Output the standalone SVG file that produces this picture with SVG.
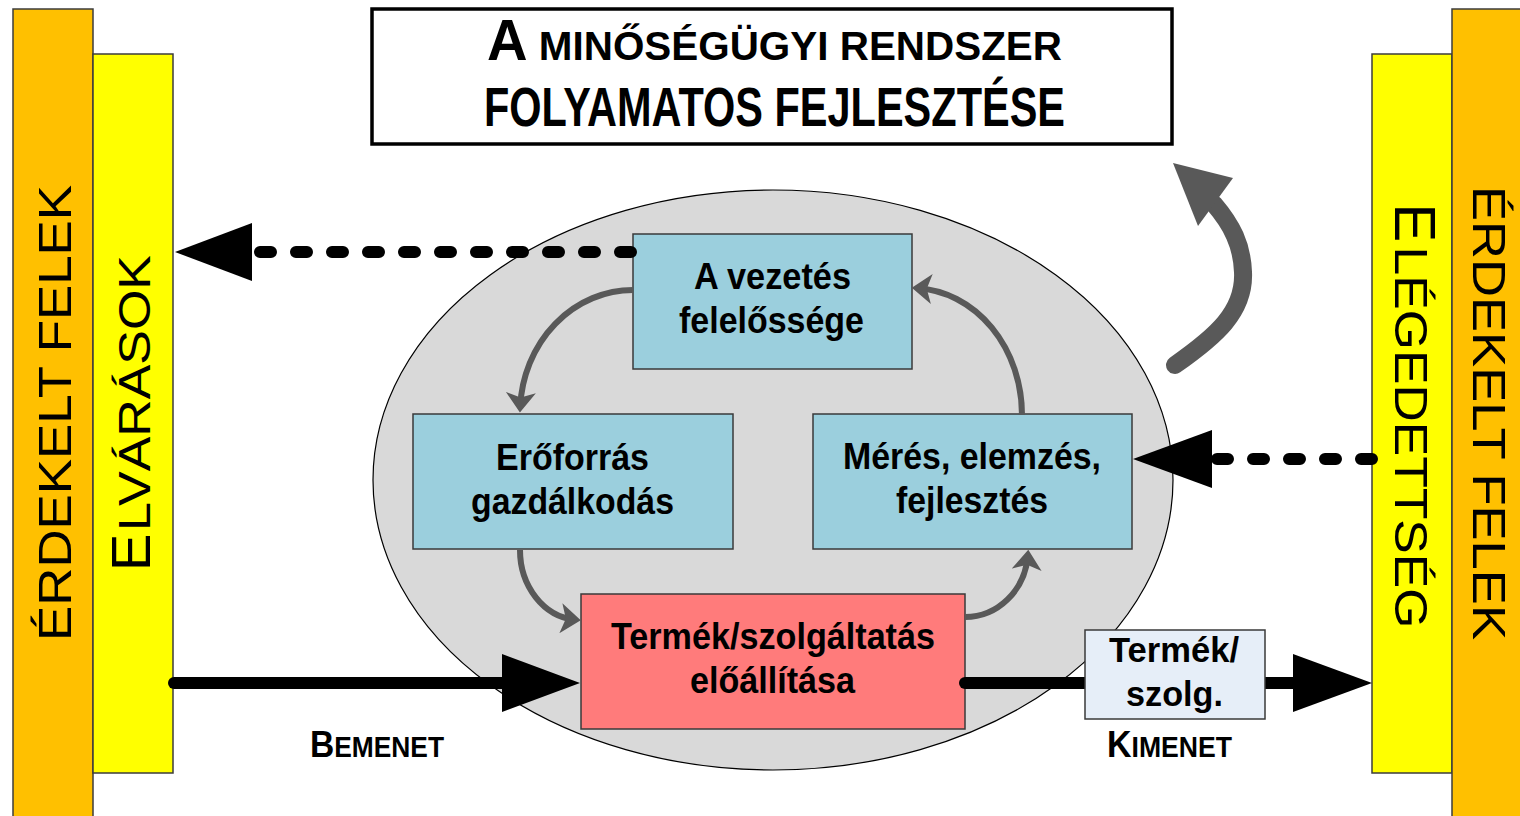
<svg xmlns="http://www.w3.org/2000/svg" width="1520" height="816" viewBox="0 0 1520 816">
<style>
.bar{stroke:#3c3c3c;stroke-width:1.5}
.box{stroke:#3a3a3a;stroke-width:1.5}
.t{font-family:"Liberation Sans Narrow","Liberation Sans",Arial,sans-serif;font-weight:bold;fill:#000}
.v{font-family:"Liberation Sans",Arial,sans-serif;fill:#000}
.dash{fill:none;stroke:#000;stroke-width:12;stroke-linecap:round;stroke-dasharray:11 25}
.solid{fill:none;stroke:#000;stroke-width:12;stroke-linecap:round}
.cyc{fill:none;stroke:#595959;stroke-width:6;marker-end:url(#gh)}
</style>
<defs>
<marker id="gh" markerUnits="userSpaceOnUse" viewBox="0 0 20 30" markerWidth="20" markerHeight="30" refX="14" refY="15" orient="auto"><path d="M0,0 L20,15 L0,30 L5,15 Z" fill="#595959"/></marker>
</defs>
<rect width="1520" height="816" fill="#fff"/>

<g id="erdekelt-bal">
<rect class="bar" x="13" y="9" width="80" height="820" fill="#FFC000"/>
<g transform="translate(71,641) rotate(-90)"><text class="v" font-size="46" textLength="456" lengthAdjust="spacingAndGlyphs">ÉRDEKELT FELEK</text></g>
</g>
<g id="elvarasok">
<rect class="bar" x="93" y="54" width="80" height="719" fill="#FFFF00"/>
<g transform="translate(150,571) rotate(-90)"><text class="v" font-size="56">E</text><text class="v" x="40" font-size="44" textLength="276" lengthAdjust="spacingAndGlyphs">LVÁRÁSOK</text></g>
</g>
<g id="elegedettseg">
<rect class="bar" x="1372" y="54" width="80" height="719" fill="#FFFF00"/>
<g transform="translate(1395,203.5) rotate(90)"><text class="v" font-size="58">E</text><text class="v" x="43" font-size="46" textLength="382" lengthAdjust="spacingAndGlyphs">LÉGEDETTSÉG</text></g>
</g>
<g id="erdekelt-jobb">
<rect class="bar" x="1452" y="9" width="80" height="820" fill="#FFC000"/>
<g transform="translate(1473,186) rotate(90)"><text class="v" font-size="46" textLength="454" lengthAdjust="spacingAndGlyphs">ÉRDEKELT FELEK</text></g>
</g>

<g id="cim">
<rect x="372" y="9" width="800" height="135" fill="#fff" stroke="#000" stroke-width="3.5"/>
<text class="t" x="487" y="60" textLength="575" lengthAdjust="spacingAndGlyphs"><tspan font-size="57">A</tspan><tspan font-size="41"> MINŐSÉGÜGYI RENDSZER</tspan></text>
<text class="t" x="484" y="126" font-size="55" textLength="581" lengthAdjust="spacingAndGlyphs">FOLYAMATOS FEJLESZTÉSE</text>
</g>

<g id="rendszer">
<ellipse cx="773" cy="480" rx="400" ry="290" fill="#D9D9D9" stroke="#000" stroke-width="1.2"/>
</g>

<g id="vezetes">
<rect class="box" x="633" y="234" width="279" height="135" fill="#9BCFDD"/>
<text class="t" x="694" y="289" font-size="36" textLength="157" lengthAdjust="spacingAndGlyphs">A vezetés</text>
<text class="t" x="679" y="333" font-size="36" textLength="185" lengthAdjust="spacingAndGlyphs">felelőssége</text>
</g>
<g id="eroforras">
<rect class="box" x="413" y="414" width="320" height="135" fill="#9BCFDD"/>
<text class="t" x="496" y="470" font-size="36" textLength="153" lengthAdjust="spacingAndGlyphs">Erőforrás</text>
<text class="t" x="471" y="514" font-size="36" textLength="203" lengthAdjust="spacingAndGlyphs">gazdálkodás</text>
</g>
<g id="meres">
<rect class="box" x="813" y="414" width="319" height="135" fill="#9BCFDD"/>
<text class="t" x="843" y="469" font-size="36" textLength="258" lengthAdjust="spacingAndGlyphs">Mérés, elemzés,</text>
<text class="t" x="896" y="513" font-size="36" textLength="152" lengthAdjust="spacingAndGlyphs">fejlesztés</text>
</g>
<g id="eloallitas">
<rect class="box" x="581" y="594" width="384" height="135" fill="#FF7B7B"/>
<text class="t" x="611" y="649" font-size="36" textLength="324" lengthAdjust="spacingAndGlyphs">Termék/szolgáltatás</text>
<text class="t" x="690" y="693" font-size="36" textLength="165" lengthAdjust="spacingAndGlyphs">előállítása</text>
</g>

<g id="connectors">
<path class="dash" d="M631,252 H258"/>
<polygon points="175,252 252,223 252,281" fill="#000"/>
<path class="dash" d="M1372,459 H1215"/>
<polygon points="1133,459 1212,430 1212,488" fill="#000"/>
<path class="solid" d="M174,683 H510"/>
<polygon points="580,683 502,654 502,712" fill="#000"/>
<path class="solid" d="M965,683 H1300"/>
<polygon points="1372,683 1293,654 1293,712" fill="#000"/>
<path class="cyc" d="M633,290 A113,123 0 0 0 520.2,406.6"/>
<path class="cyc" d="M520,550 A60,70 0 0 0 574.8,619.7"/>
<path class="cyc" d="M965,617 A63,67 0 0 0 1027.8,555.8"/>
<path class="cyc" d="M1022,415 A110,127 0 0 0 917.8,288.2"/>
<path d="M1175,365 C1215,337 1245,312 1243,272 C1242,245 1232,225 1214,204" fill="none" stroke="#595959" stroke-width="18" stroke-linecap="round"/>
<polygon points="1173,163 1233,178 1198,226" fill="#595959"/>
</g>

<g id="termek-szolg">
<rect class="box" x="1085" y="630" width="180" height="89" fill="#E6EEF8"/>
<text class="t" x="1109" y="662" font-size="35" textLength="130" lengthAdjust="spacingAndGlyphs">Termék/</text>
<text class="t" x="1126" y="706" font-size="35" textLength="97" lengthAdjust="spacingAndGlyphs">szolg.</text>
</g>

<g id="bemenet">
<text class="t" x="310" y="757" textLength="134" lengthAdjust="spacingAndGlyphs"><tspan font-size="37">B</tspan><tspan font-size="29">EMENET</tspan></text>
</g>
<g id="kimenet">
<text class="t" x="1107" y="757" textLength="125" lengthAdjust="spacingAndGlyphs"><tspan font-size="37">K</tspan><tspan font-size="29">IMENET</tspan></text>
</g>
</svg>
